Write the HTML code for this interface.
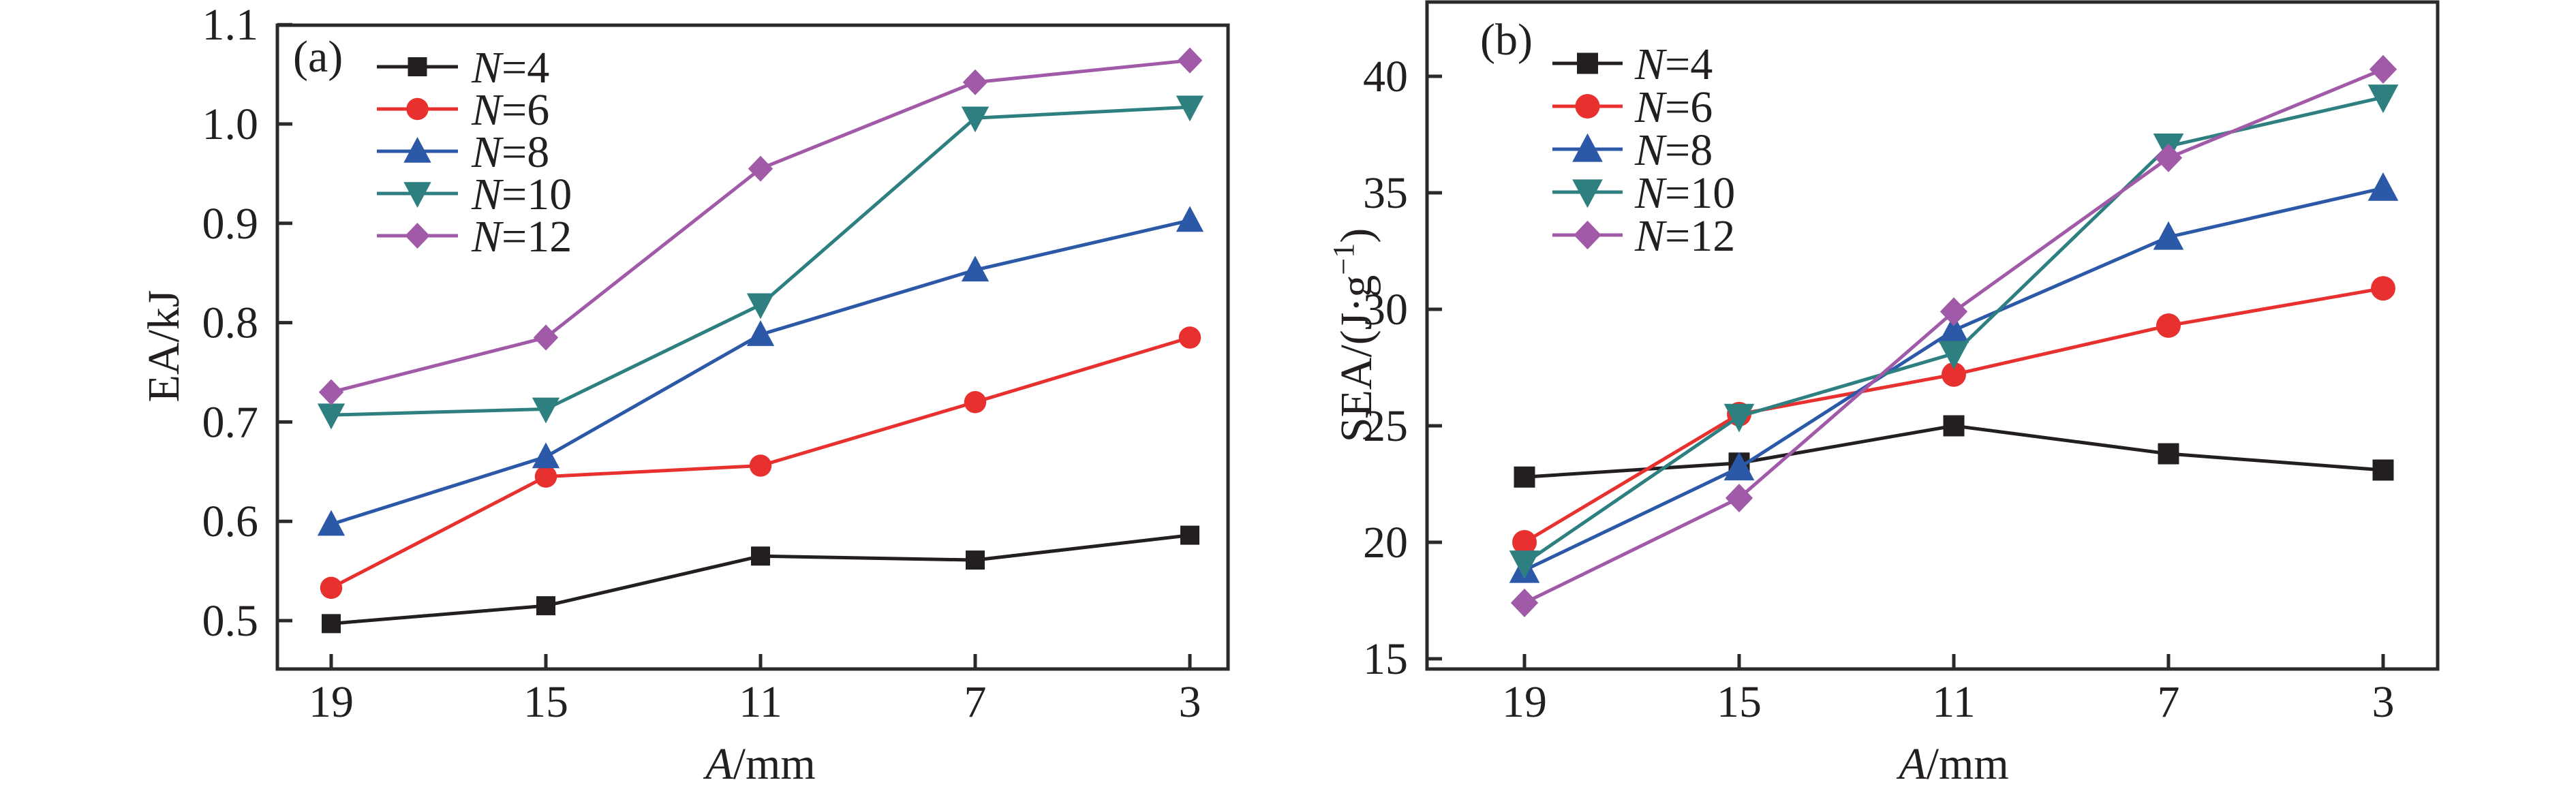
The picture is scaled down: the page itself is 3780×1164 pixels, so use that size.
<!DOCTYPE html>
<html><head><meta charset="utf-8"><style>html,body{margin:0;padding:0;background:#fff}svg{display:block}text{font-family:"Liberation Serif",serif;fill:#231f20}</style></head>
<body>
<svg id="chart" width="3780" height="1164" viewBox="0 0 3780 1164" xmlns="http://www.w3.org/2000/svg"></svg>
<script>
const categories = ["19","15","11","7","3"];
const seriesNames = ["4","6","8","10","12"];
const eaN4 = [0.497,0.515,0.565,0.561,0.586];
const eaN6 = [0.533,0.645,0.656,0.720,0.785];
const eaN8 = [0.597,0.665,0.788,0.853,0.903];
const eaN10 = [0.707,0.713,0.818,1.006,1.017];
const eaN12 = [0.730,0.785,0.955,1.042,1.064];
const seaN4 = [22.8,23.4,25.0,23.8,23.1];
const seaN6 = [20.0,25.5,27.2,29.3,30.9];
const seaN8 = [18.8,23.2,29.1,33.1,35.2];
const seaN10 = [19.1,25.4,28.1,37.0,39.1];
const seaN12 = [17.4,21.9,29.9,36.5,40.3];
const eaTicks = [0.5,0.6,0.7,0.8,0.9,1.0,1.1];
const eaTickLabels = ["0.5","0.6","0.7","0.8","0.9","1.0","1.1"];
const seaTicks = [15,20,25,30,35,40];
const seaTickLabels = ["15","20","25","30","35","40"];

const colors = ["#231f20","#e8312f","#2b59a8","#2e8080","#a05aa8"];
const shapes = ["square","circle","up","down","diamond"];
const NS = "http://www.w3.org/2000/svg";
const svg = document.getElementById("chart");
function mk(tag, attrs, parent){const e=document.createElementNS(NS,tag);for(const k in attrs)e.setAttribute(k,attrs[k]);(parent||svg).appendChild(e);return e;}

function marker(g, shape, cx, cy, s, color){
  let e;
  if(shape==="square") e=mk("rect",{x:cx-s*0.5,y:cy-s*0.5,width:s,height:s,fill:color},g);
  else if(shape==="circle") e=mk("circle",{cx:cx,cy:cy,r:s*0.58,fill:color},g);
  else if(shape==="up") e=mk("polygon",{points:`${cx},${cy-s*0.75} ${cx-s*0.72},${cy+s*0.6} ${cx+s*0.72},${cy+s*0.6}`,fill:color},g);
  else if(shape==="down") e=mk("polygon",{points:`${cx},${cy+s*0.75} ${cx-s*0.72},${cy-s*0.6} ${cx+s*0.72},${cy-s*0.6}`,fill:color},g);
  else e=mk("polygon",{points:`${cx},${cy-s*0.68} ${cx+s*0.65},${cy} ${cx},${cy+s*0.68} ${cx-s*0.65},${cy}`,fill:color},g);
  
  
  return e;
}

function panel(cfg){
  const g = mk("g",{});
  
  
  const X = i => cfg.x0 + i*315;
  const Y = v => cfg.yA + (v - cfg.vA)*(cfg.yB - cfg.yA)/(cfg.vB - cfg.vA);
  cfg.data.forEach((arr, si) => {
    const sg = mk("g",{},g);
    
    
    const pts = arr.map((v,i)=>X(i)+","+Y(v)).join(" ");
    const pl = mk("polyline",{points:pts,fill:"none",stroke:colors[si],"stroke-width":5},sg);
    
    
    arr.forEach((v,i)=>marker(sg, shapes[si], X(i), Y(v), cfg.ms, colors[si]));
  });
  const fr = mk("rect",{x:cfg.L,y:cfg.T,width:cfg.R-cfg.L,height:cfg.B-cfg.T,fill:"none",stroke:"#2a2a2a","stroke-width":5},g);
  
  
  categories.forEach((c,i)=>{
    const t = mk("line",{x1:X(i),x2:X(i),y1:cfg.B,y2:cfg.B-22,stroke:"#2a2a2a","stroke-width":5},g);
    
    
    const tl = mk("text",{x:X(i),y:1052,"font-size":66,"text-anchor":"middle"},g);
    tl.textContent = c;
    
    
  });
  cfg.ticks.forEach((v,i)=>{
    const t = mk("line",{x1:cfg.L,x2:cfg.L+22,y1:Y(v),y2:Y(v),stroke:"#2a2a2a","stroke-width":5},g);
    
    
    const tl = mk("text",{x:cfg.L-28,y:Y(v)+22,"font-size":66,"text-anchor":"end"},g);
    tl.textContent = cfg.tickLabels[i];
    
    
  });
  const xt = mk("text",{x:X(2),y:1143,"font-size":66,"text-anchor":"middle"},g);
  xt.innerHTML = '<tspan font-style="italic">A</tspan>/mm';
  
  
  const yt = mk("text",{x:0,y:0,"font-size":66,"text-anchor":"middle",transform:`translate(${cfg.ytx},${cfg.yty}) rotate(-90)`},g);
  yt.innerHTML = cfg.ytitle;
  
  
  const pl = mk("text",{x:cfg.plx,y:cfg.ply,"font-size":66},g);
  pl.textContent = cfg.label;
  
  
  const lg = mk("g",{},g);
  
  
  seriesNames.forEach((n,si)=>{
    const y = cfg.lgy + si*cfg.lgdy;
    const eg = mk("g",{},lg);
    
    
    mk("line",{x1:cfg.lgx1,x2:cfg.lgx2,y1:y,y2:y,stroke:colors[si],"stroke-width":5},eg);
    marker(eg, shapes[si], (cfg.lgx1+cfg.lgx2)/2, y, cfg.ms, colors[si]);
    const t = mk("text",{x:cfg.lgtx,y:y+23,"font-size":66},eg);
    t.innerHTML = '<tspan font-style="italic">N</tspan>='+n;
  });
}

panel({name:"panel-a-ea", L:407,R:1802,T:37,B:982,x0:486, yA:911,vA:0.5,yB:182,vB:1.0,
  data:[eaN4,eaN6,eaN8,eaN10,eaN12], ticks:eaTicks, tickLabels:eaTickLabels, ms:28,
  ytitle:"EA/kJ", ytx:262, yty:508, label:"(a)", plx:430, ply:105,
  lgx1:553, lgx2:672, lgy:98, lgdy:62, lgtx:692});
panel({name:"panel-b-sea", L:2094,R:3577,T:3,B:982,x0:2237, yA:967,vA:15,yB:112,vB:40,
  data:[seaN4,seaN6,seaN8,seaN10,seaN12], ticks:seaTicks, tickLabels:seaTickLabels, ms:31,
  ytitle:'SEA/(J·g<tspan dy="-26" font-size="44">−1</tspan><tspan dy="26">)</tspan>', ytx:2012, yty:492, label:"(b)", plx:2172, ply:80,
  lgx1:2278, lgx2:2381, lgy:93, lgdy:63, lgtx:2399});
</script>
</body></html>
